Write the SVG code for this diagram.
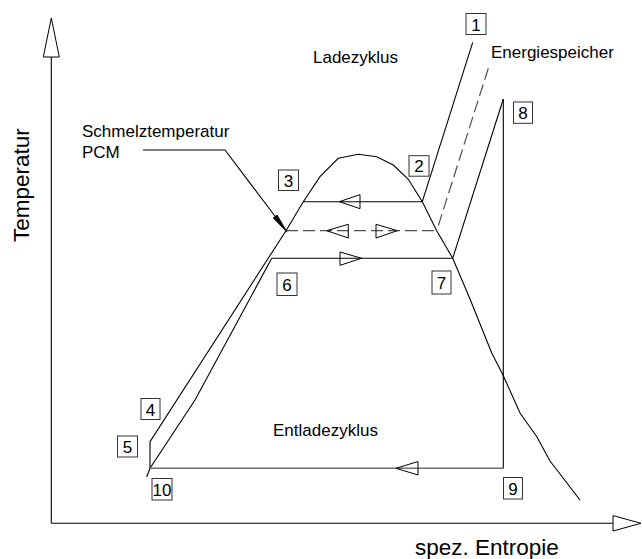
<svg xmlns="http://www.w3.org/2000/svg" width="642" height="559" viewBox="0 0 642 559">
<style>
.ln{fill:none;stroke:#000;stroke-width:1.1}
.gr{fill:none;stroke:#707070;stroke-width:1.6}
.ds{fill:none;stroke:#505050;stroke-width:1.2;stroke-dasharray:12 5}
.ah{fill:none;stroke:#000;stroke-width:1}
.box{fill:#fff;stroke:#333;stroke-width:1}
.num{font-family:"Liberation Sans",Arial,sans-serif;font-size:17px;fill:#000;text-anchor:middle}
.lbl{font-family:"Liberation Sans",Arial,sans-serif;font-size:17px;fill:#000}
.ax{font-family:"Liberation Sans",Arial,sans-serif;font-size:22.5px;fill:#000}
</style>
<rect width="642" height="559" fill="#fff"/>
<g id="axes">
<line class="ln" x1="51.3" y1="57" x2="51.3" y2="523.3" stroke-width="1.3"/>
<polygon class="ah" points="51.3,18 43.3,57 59.3,57"/>
<line class="ln" x1="51.3" y1="523.3" x2="613" y2="523.3" stroke-width="1.3"/>
<polygon class="ah" points="613,515.6 641,523.3 613,531"/>
<text class="ax" transform="translate(29,242) rotate(-90)">Temperatur</text>
<text class="ax" x="415" y="555">spez. Entropie</text>
</g>
<g id="connectors">
<polyline class="ln" points="150,468.3 150,441.7 286,230.7 303.3,201.7 320,176.7 338.3,158.3 358.3,154.3 376.7,156.7 393.3,165 408.3,179.3 422.3,201.7 436.7,230.7 452.7,258.3 470,299 491.7,353 503,375 520,413 537,437 550,461 580,500"/>
<polyline class="ln" points="271.7,258.3 195,400 150,468.3 146.7,477"/>
<line class="ln" x1="472.7" y1="42.3" x2="422.3" y2="201.7"/>
<line class="ds" x1="488.3" y1="68.3" x2="436.7" y2="230.7"/>
<line class="ln" x1="503.3" y1="99" x2="452.7" y2="258.3"/>
<line class="ln" x1="503.3" y1="99" x2="503.3" y2="468.3"/>
<line class="gr" x1="150" y1="468.3" x2="503.3" y2="468.3"/>
<polygon class="ah" points="396,468.3 418,461.5 418,475"/>
<line class="ln" x1="303.3" y1="201.7" x2="422.3" y2="201.7"/>
<polygon class="ah" points="339.3,201.7 360,194.7 360,208.7"/>
<line class="ds" x1="286" y1="230.7" x2="436.7" y2="230.7"/>
<polygon class="ah" points="326.7,230.7 348.3,224.3 348.3,238"/>
<polygon class="ah" points="397.3,230.7 376,224.3 376,238"/>
<line class="ln" x1="271.7" y1="258.3" x2="452.7" y2="258.3"/>
<polygon class="ah" points="361.7,258.3 340,252 340,265.3"/>
<polyline class="ln" points="143,150 225,150 276,217.5"/>
<polygon points="286.7,231.7 273.2,218 277.2,215" fill="#000" stroke="#000" stroke-width="0.8"/>
</g>
<g id="labels">
<text class="lbl" x="313" y="63">Ladezyklus</text>
<text class="lbl" x="491" y="58">Energiespeicher</text>
<text class="lbl" x="82" y="137.3">Schmelztemperatur</text>
<text class="lbl" x="82" y="158.3">PCM</text>
<text class="lbl" x="273" y="436">Entladezyklus</text>
</g>
<g id="n1"><rect class="box" x="466" y="13.5" width="20" height="21"/><text class="num" x="476" y="30.5">1</text></g>
<g id="n2"><rect class="box" x="409" y="155.7" width="20" height="20.5"/><text class="num" x="419" y="172">2</text></g>
<g id="n3"><rect class="box" x="278.5" y="170" width="20" height="20.5"/><text class="num" x="288.5" y="186.5">3</text></g>
<g id="n4"><rect class="box" x="141" y="398.5" width="19" height="21"/><text class="num" x="150.5" y="415.5">4</text></g>
<g id="n5"><rect class="box" x="117.5" y="436" width="20" height="21"/><text class="num" x="127.5" y="453">5</text></g>
<g id="n6"><rect class="box" x="277" y="273" width="20" height="22.5"/><text class="num" x="287" y="291">6</text></g>
<g id="n7"><rect class="box" x="432" y="271" width="19" height="23"/><text class="num" x="441.5" y="289">7</text></g>
<g id="n8"><rect class="box" x="513.5" y="102" width="19" height="21.3"/><text class="num" x="523" y="118.5">8</text></g>
<g id="n9"><rect class="box" x="503.5" y="477.5" width="19" height="21.5"/><text class="num" x="513" y="494.5">9</text></g>
<g id="n10"><rect class="box" x="152" y="478.5" width="20" height="21.5"/><text class="num" x="162" y="495.5">10</text></g>
</svg>
